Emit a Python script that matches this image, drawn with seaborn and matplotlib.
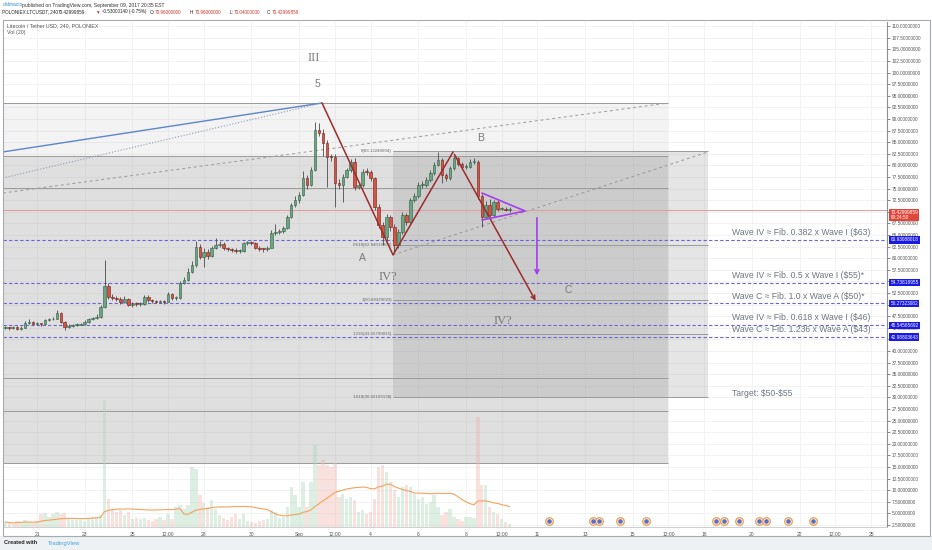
import numpy as np
import pandas as pd
import seaborn as sns
import matplotlib.pyplot as plt
from matplotlib.patches import Rectangle

sns.set_theme(style="white")
plt.rcParams['font.family'] = ['Liberation Sans', 'DejaVu Sans']

# x axis is in days of August 2017 (Sep 1 = 32), 4h candles
first_candle = 19 + 16 / 24
first_open = 45.0
closes = [45.0, 44.9, 45.1, 44.8, 45.0, 46.0, 46.2, 45.8, 45.9, 45.8,
          46.7, 46.8, 47.0, 48.1, 46.3, 45.1, 45.4, 45.6, 45.7, 45.8,
          46.3, 46.8, 47.1, 47.4, 49.5, 53.9, 51.7, 51.4, 51.2, 50.6,
          51.3, 49.9, 50.2, 50.1, 50.2, 51.7, 50.9, 50.7, 50.6, 50.7,
          50.6, 52.3, 51.4, 51.4, 54.6, 55.3, 57.1, 58.5, 62.5, 60.3,
          61.4, 60.5, 62.1, 62.8, 63.0, 62.1, 62.0, 61.8, 61.5, 61.6,
          63.2, 63.3, 63.2, 62.3, 62.0, 61.9, 62.3, 65.4, 65.6, 65.8,
          66.4, 68.9, 71.5, 72.5, 73.6, 77.2, 75.8, 79.1, 87.6, 87.0,
          84.8, 81.9, 81.8, 76.1, 75.8, 77.6, 79.0, 80.8, 75.4, 75.8,
          78.6, 78.5, 77.2, 71.1, 67.2, 64.6, 68.9, 66.8, 62.8, 65.7,
          69.3, 67.9, 72.5, 73.3, 75.8, 75.8, 76.9, 78.3, 80.1, 81.2,
          77.9, 77.2, 79.4, 81.5, 80.4, 79.7, 79.7, 80.8, 80.8, 73.3,
          68.9, 71.5, 69.3, 72.2, 70.7, 70.7, 70.4, 70.43]
highs = [45.3, 45.2, 45.4, 45.3, 45.3, 46.4, 46.9, 46.4, 46.2, 46.1,
         47.0, 47.1, 47.4, 48.9, 48.4, 46.5, 45.9, 45.9, 46.0, 46.1,
         46.6, 47.2, 47.4, 47.9, 49.9, 59.6, 54.6, 52.3, 51.9, 51.6,
         51.8, 51.5, 50.6, 50.5, 50.6, 52.0, 52.1, 51.1, 51.0, 51.0,
         51.0, 52.7, 52.6, 51.8, 55.0, 56.0, 57.8, 59.3, 63.6, 63.0,
         62.2, 62.0, 62.6, 64.4, 63.6, 63.4, 62.5, 62.3, 62.1, 62.0,
         63.5, 63.6, 63.6, 63.5, 62.6, 62.3, 62.7, 66.1, 67.4, 66.2,
         66.9, 69.3, 72.0, 73.4, 74.3, 78.7, 78.0, 79.6, 89.4, 89.2,
         87.8, 85.4, 82.5, 82.4, 77.0, 78.2, 79.5, 81.4, 81.5, 76.5,
         79.3, 79.5, 79.0, 77.6, 71.6, 67.8, 69.5, 69.3, 67.4, 66.3,
         70.0, 69.8, 73.0, 74.0, 76.4, 76.6, 77.5, 78.9, 80.7, 82.8,
         81.6, 78.4, 79.9, 82.0, 81.9, 80.8, 80.2, 81.3, 81.6, 81.1,
         73.8, 72.3, 72.7, 72.6, 72.5, 71.1, 71.0, 70.96]
lows = [44.7, 44.6, 44.7, 44.5, 44.6, 44.9, 45.8, 45.5, 45.6, 45.4,
        45.7, 46.4, 46.6, 46.9, 46.1, 44.6, 44.9, 45.2, 45.3, 45.5,
        45.6, 46.1, 46.6, 46.9, 47.2, 49.3, 51.2, 50.9, 50.7, 50.2,
        50.3, 49.6, 49.5, 49.7, 49.8, 50.0, 50.6, 50.4, 50.3, 50.3,
        50.2, 50.5, 51.0, 51.0, 51.2, 54.4, 55.0, 56.9, 58.2, 59.8,
        58.2, 59.8, 60.3, 61.9, 62.5, 61.8, 61.6, 61.3, 61.1, 61.2,
        61.4, 62.9, 62.8, 62.0, 61.6, 61.3, 61.6, 62.1, 65.1, 65.3,
        65.5, 66.2, 68.6, 71.0, 72.0, 73.3, 74.9, 75.5, 78.8, 86.3,
        82.0, 75.3, 80.9, 71.1, 75.0, 72.2, 77.2, 78.5, 74.7, 74.9,
        75.3, 78.0, 76.6, 70.4, 66.5, 62.8, 63.7, 65.9, 61.1, 62.3,
        65.3, 67.2, 67.6, 72.1, 73.0, 75.2, 75.4, 76.5, 77.9, 79.8,
        76.3, 76.7, 76.9, 79.1, 79.9, 79.3, 79.2, 79.4, 80.3, 72.8,
        66.7, 68.5, 68.9, 68.9, 70.2, 70.3, 70.1, 70.04]
volume = [5, 4, 3, 6, 5, 7, 5, 4, 6, 13, 14, 10, 13, 15, 13, 14, 9, 7, 7, 7,
          6, 8, 10, 10, 12, 127, 28, 18, 15, 17, 12, 15, 8, 9, 8, 9, 7, 6, 8, 10,
          7, 13, 8, 20, 22, 18, 22, 60, 58, 32, 24, 20, 27, 18, 12, 9, 7, 10, 13, 8,
          13, 6, 5, 4, 6, 7, 8, 17, 15, 9, 10, 20, 40, 32, 20, 45, 20, 45, 82, 62,
          67, 62, 60, 64, 30, 33, 28, 30, 27, 15, 17, 13, 15, 28, 60, 62, 55, 45, 37, 30,
          40, 42, 40, 33, 28, 30, 23, 25, 32, 20, 12, 15, 18, 10, 8, 6, 10, 10, 9, 110,
          42, 42, 20, 15, 13, 8, 5, 3]

tick_days = [21, 23, 25, 26.5, 28, 30, 32, 33.5, 35, 37, 39, 40.5, 42, 44, 46,
             47.5, 49, 51, 53, 54.5, 56]
tick_labels = ['21', '23', '25', '12:00', '28', '30', 'Sep', '12:00', '4', '6', '8',
               '12:00', '11', '13', '15', '12:00', '18', '20', '22', '12:00', '25']

# elliott wave drawing: top 5, A, B, projected C
wave_days = [32.96, 35.94, 38.46, 41.98]
wave_prices = [93.45, 60.7, 82.9, 50.3]
wave_labels = ['III', '5', 'A', 'IV?', 'B', 'C', 'IV?']
wave_label_days = [32.62, 32.75, 34.64, 35.73, 39.63, 43.28, 40.56]
wave_label_prices = [103.1, 97.5, 60.0, 55.9, 85.9, 53.1, 46.5]

# blue dashed target levels
target_prices = [63.93088018, 54.73818955, 50.27323082, 45.54565692, 42.98803643]
target_texts = ['Wave IV \u2248 Fib. 0.382 x Wave I (\\$63)',
                'Wave IV \u2248 Fib. 0.5 x Wave I (\\$55)*',
                'Wave C \u2248 Fib. 1.0 x Wave A (\\$50)*',
                'Wave IV \u2248 Fib. 0.618 x Wave I (\\$46)',
                'Wave C \u2248 Fib. 1.236 x Wave A (\\$43)']

# trend based fib extension from wave A low
fib_ratios = ['0', '0.618', '1', '1.236', '1.618']
fib_prices = [83.12240604, 62.84019803, 50.89329023, 43.55799015, 30.02109138]
retrace_prices = [82.0, 75.1, 34.2, 27.1, 15.9]

event_days = [42.49, 44.33, 44.58, 45.47, 46.56, 49.49, 49.83, 50.46, 51.30,
              51.59, 52.52, 53.56]

last_price = 70.42999859
x0, x1 = 19.573, 56.67

n = len(closes)
days = first_candle + np.arange(n) / 6
df = pd.DataFrame({'day': days, 'open': [first_open] + closes[:-1], 'close': closes,
                   'high': highs, 'low': lows, 'vol': volume})
df['up'] = df['close'] >= df['open']
df['ma'] = df['vol'].rolling(20, min_periods=1).mean()

fig = plt.figure(figsize=(9.32, 5.5), dpi=100)
ax = fig.add_axes([3 / 932, 23 / 550, 884 / 932, 505 / 550])
ax.set_xlim(x0, x1)
ax.set_ylim(2.07, 110.9)
ax.set_facecolor('white')

# volume overlay axis (created first, twinx moves the price ticks to the left)
ax2 = ax.twinx()
ax2.set_ylim(0, 505)
ax2.set_yticks([])
for s in ax2.spines.values():
    s.set_visible(False)

# grid and scales
yt = np.arange(2.5, 111, 2.5)
ax.set_yticks(yt)
ax.set_yticklabels(['%.8f' % v for v in yt])
ax.set_xticks(tick_days, tick_labels)
ax.grid(True, color='#f1f1f1', lw=0.6, zorder=0)
ax.yaxis.tick_right()
ax.yaxis.set_label_position('right')
ax.tick_params(axis='y', labelsize=3.4, colors='#555555', length=2, width=0.5, pad=1.5,
               left=False, labelleft=False, right=True, labelright=True)
ax.tick_params(axis='x', labelsize=3.6, colors='#555555', length=2, width=0.5, pad=1.5)
for s in ['left', 'top']:
    ax.spines[s].set_visible(False)
ax.spines['right'].set_color('#8a8f95')
ax.spines['right'].set_linewidth(0.8)
ax.spines['bottom'].set_color('#c8c8c8')
ax.spines['bottom'].set_linewidth(0.6)

# gray zones from the fib tools
gray = '#8c8c8c'
ax.add_patch(Rectangle((x0, retrace_prices[0]), 47.48 - x0, 93.45 - retrace_prices[0],
                       color=gray, alpha=0.1, lw=0, zorder=1))
ax.add_patch(Rectangle((x0, retrace_prices[-1]), 47.48 - x0,
                       retrace_prices[0] - retrace_prices[-1], color=gray, alpha=0.27, lw=0, zorder=1))
ax.add_patch(Rectangle((35.94, fib_prices[-1]), 49.16 - 35.94, fib_prices[0] - fib_prices[-1],
                       color=gray, alpha=0.22, lw=0, zorder=1))
ax.hlines([93.45], x0, 47.48, color='#9a9a9a', lw=0.7, zorder=2)
ax.hlines(retrace_prices, x0, 47.48, color='#9a9a9a', lw=0.7, zorder=2)
ax.hlines(fib_prices, 35.94, 49.16, color='#9a9a9a', lw=0.7, zorder=2)
for r, p in zip(fib_ratios, fib_prices):
    ax.text(35.9, p, '%s(%.8f)' % (r, p), fontsize=3.2, color='#666666', ha='right',
            va='center', zorder=3)

# channel lines
ax.plot([x0, wave_days[0]], [82.9, wave_prices[0]], color='#5b86c9', lw=1.0, zorder=3)
ax.plot([x0, wave_days[0]], [77.3, wave_prices[0]], color='#8c9bb8', lw=0.8, ls=':', zorder=3)
ax.plot([x0, 47.48], [74.05, 93.45], color='#9a9a9a', lw=0.7, ls=(0, (3, 3)), zorder=3)
ax.plot([wave_days[1], 49.16], [wave_prices[1], 82.9], color='#9a9a9a', lw=0.7,
        ls=(0, (3, 3)), zorder=3)

# target levels
ax.hlines(target_prices, x0, x1, color='#6b63d9', lw=0.8, ls=(0, (3, 2)), zorder=3)
for txt, p in zip(target_texts, target_prices):
    ax.text(50.17, p + 0.6, txt, fontsize=6.2, color='#6f7780', va='bottom', zorder=5)
ax.text(50.17, 30.9, 'Target: \\$50-\\$55', fontsize=6.2, color='#6f7780', va='center', zorder=5)
ax.axhline(last_price, color='#e39a9a', lw=0.7, zorder=3)

# candles
wick_lo = df[['open', 'close']].min(axis=1)
body = (df['close'] - df['open']).abs().clip(lower=0.2)
up_col, dn_col = '#6ba583', '#d75442'
ax.vlines(df['day'], df['low'], df['high'], color='#4a4a4a', lw=0.6, zorder=4)
ax.bar(df['day'], body, bottom=wick_lo, width=0.11,
       color=np.where(df['up'], up_col, dn_col),
       edgecolor=np.where(df['up'], '#2f5e43', '#6b1f16'), lw=0.4, zorder=5)

# wave lines and drawings
ax.plot(wave_days[:3], wave_prices[:3], color='#9e2b2b', lw=1.1, zorder=6)
ax.annotate('', xy=(wave_days[3], wave_prices[3]), xytext=(wave_days[2], wave_prices[2]),
            arrowprops=dict(arrowstyle='->', color='#9e2b2b', lw=1.1, mutation_scale=7), zorder=6)
ax.plot([39.67, 41.48, 39.67], [74.05, 70.17, 68.23], color='#a33ff0', lw=1.2, zorder=6)
ax.annotate('', xy=(41.98, 55.7), xytext=(41.98, 69.3),
            arrowprops=dict(arrowstyle='->', color='#a33ff0', lw=1.2, mutation_scale=7), zorder=6)
for lab, d, p in zip(wave_labels, wave_label_days, wave_label_prices):
    serif = lab in ('III', 'IV?')
    ax.text(d, p, lab, fontsize=9 if serif else 7.5, color='#7a7a7a', ha='center', va='center',
            family='Liberation Serif' if serif else 'Liberation Sans', zorder=7)

# volume bars with the 20 period average
ax2.bar(df['day'], df['vol'], width=0.14,
        color=np.where(df['up'], '#a8d8b8', '#f0b4ad'), alpha=0.4, lw=0, zorder=2)
sns.lineplot(x=df['day'], y=df['ma'], ax=ax2, color='#f5a35c', lw=0.8, zorder=3)
ax2.set_xlabel('')
ax2.set_ylabel('')
ax2.scatter(event_days, [6] * len(event_days), s=30, facecolor='#f4ecf4',
            edgecolor='#f0a050', lw=0.9, zorder=4)
ax2.scatter(event_days, [6] * len(event_days), s=5, color='#5a6fc0', zorder=5)
ax2.set_xlim(x0, x1)

# right scale price tags
tags = [(last_price, '70.42999859\n00:24:50', '#e0473a')] + \
       [(p, '%.8f' % p, '#1a1ae6') for p in target_prices]
for p, t, c in tags:
    ax.text(1.004, p, t, transform=ax.get_yaxis_transform(), fontsize=3.4, color='white',
            va='top' if '\n' in t else 'center', ha='left', linespacing=1.1, zorder=8,
            bbox=dict(boxstyle='square,pad=0.25', fc=c, ec='none'))

# header, footer, frame
fig.add_artist(Rectangle((0, 0), 1, 14 / 550, transform=fig.transFigure,
                         color='#eef1f4', lw=0))
fig.add_artist(Rectangle((3 / 932, 14 / 550), 927 / 932, 516 / 550, transform=fig.transFigure,
                         fill=False, ec='#a7abb0', lw=0.8))
fig.text(3 / 932, 1 - 5 / 550, 'dalmacio', fontsize=3.6, color='#2f8ad8', va='center')
fig.text(22 / 932, 1 - 5 / 550, 'published on TradingView.com, September 09, 2017 20:35 EST',
         fontsize=3.6, color='#333333', va='center')
header = [(2, 'POLONIEX:LTCUSDT, 240', '#222222'), (58, '70.42999859', '#222222'),
          (95, '\u25bc', '#d0352b'), (102, '-0.53000140 (-0.75%)', '#222222'),
          (150, 'O:', '#222222'), (155, '70.96000000', '#d0352b'), (190, 'H:', '#222222'),
          (195, '70.96000000', '#d0352b'), (230, 'L:', '#222222'), (234, '70.04000000', '#d0352b'),
          (267, 'C:', '#222222'), (272, '70.42999859', '#d0352b')]
for xp, t, c in header:
    fig.text(xp / 932, 1 - 12 / 550, t, fontsize=3.3, color=c, va='center')
fig.text(7 / 932, 1 - 25.5 / 550, 'Litecoin / Tether USD, 240, POLONIEX', fontsize=3.8,
         color='#555555', va='center')
fig.text(7 / 932, 1 - 32.5 / 550, 'Vol (20)', fontsize=3.8, color='#555555', va='center')
fig.text(4 / 932, 1 - 543 / 550, 'Created with', fontsize=4, color='#222222', va='center',
         weight='bold')
fig.text(48 / 932, 1 - 543 / 550, 'TradingView', fontsize=4.2, color='#3ea3de', va='center')

fig.savefig('out.png', dpi=100)
